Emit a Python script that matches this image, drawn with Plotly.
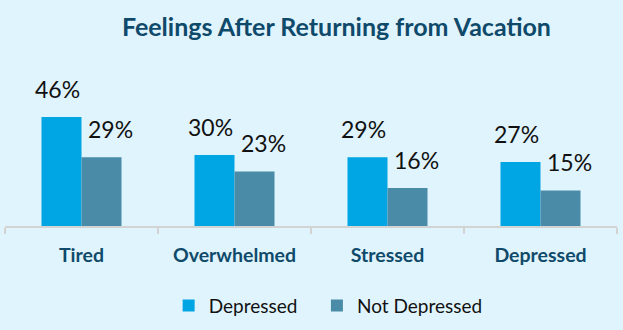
import plotly.graph_objects as go

categories = ["Tired", "Overwhelmed", "Stressed", "Depressed"]
depressed = [46, 30, 29, 27]
not_depressed = [29, 23, 16, 15]
series_names = ["Depressed", "Not Depressed"]

BG = "#E0F4FD"
C_DEP = "#00A5E3"
C_NOT = "#4A8BA8"
TITLE_C = "#0F4A6B"
FONT = "Lato"
PAD = "\u00a0" * 3  # extra spacing between legend entries

fig = go.Figure()
fig.add_trace(go.Bar(name=series_names[0] + PAD, x=categories, y=depressed,
                     marker=dict(color=C_DEP, line=dict(width=0))))
fig.add_trace(go.Bar(name=series_names[1], x=categories, y=not_depressed,
                     marker=dict(color=C_NOT, line=dict(width=0))))

annotations = []
for vals, shift in ((depressed, -24), (not_depressed, 29)):
    for c, v in zip(categories, vals):
        annotations.append(dict(x=c, y=v, xref="x", yref="y", text=f"{v}%",
                                showarrow=False, xshift=shift, yshift=12,
                                yanchor="bottom",
                                font=dict(family=FONT, size=23, color="#111111")))

fig.update_layout(
    width=623, height=330,
    margin=dict(l=5, r=6, t=70, b=102),
    paper_bgcolor=BG, plot_bgcolor=BG,
    barmode="group", bargap=0.477, bargroupgap=0,
    title=dict(text="<b>Feelings After Returning from Vacation</b>",
               x=0.54, xanchor="center", xref="container",
               y=0.918, yanchor="middle", yref="container",
               font=dict(family=FONT, size=25, color=TITLE_C)),
    xaxis=dict(range=[-0.5, 3.5], showline=True, linecolor="#D3D3D3", linewidth=1.5,
               ticks="outside", tickson="boundaries", ticklen=6, tickcolor="#D3D3D3",
               tickwidth=1.5, ticklabelstandoff=11,
               tickfont=dict(family=FONT, size=19.5, color=TITLE_C, weight="bold"),
               showgrid=False, zeroline=False),
    yaxis=dict(range=[0, 65.8], visible=False, showgrid=False, zeroline=False),
    legend=dict(orientation="h", x=0.528, xanchor="center", y=-0.51, yanchor="middle",
                font=dict(family=FONT, size=19, color="#111111"),
                bgcolor="rgba(0,0,0,0)"),
    annotations=annotations,
    showlegend=True,
)

fig.write_html("out.html")
